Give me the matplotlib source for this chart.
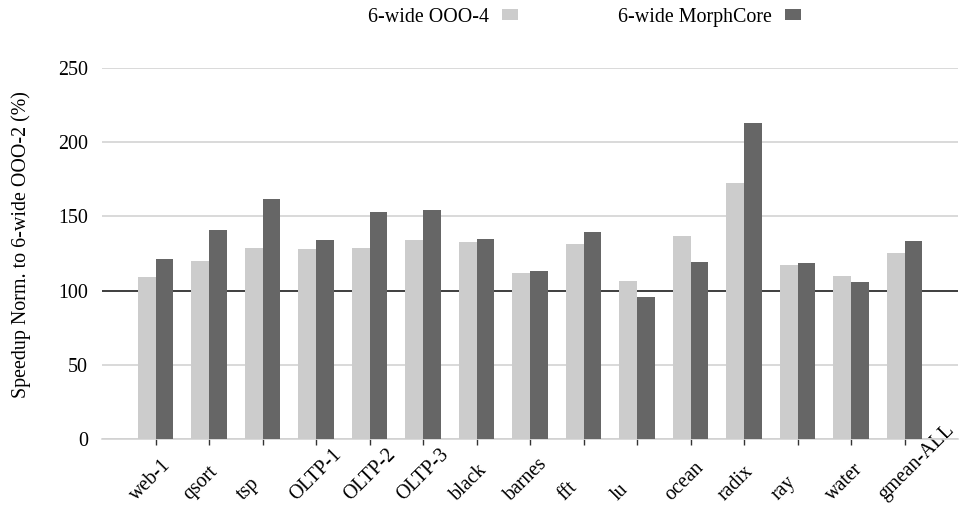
import matplotlib.pyplot as plt
import matplotlib.transforms as mtrans
import numpy as np

plt.rcParams['font.family'] = ['Liberation Serif', 'DejaVu Serif']

categorias = ['web-1', 'qsort', 'tsp', 'OLTP-1', 'OLTP-2', 'OLTP-3', 'black', 'barnes',
              'fft', 'lu', 'ocean', 'radix', 'ray', 'water', 'gmean-ALL']
ooo4 = [109.2, 120.0, 128.7, 128.1, 128.7, 134.1, 132.8, 111.9,
        131.4, 106.5, 136.8, 172.6, 117.3, 109.9, 125.4]
morphcore = [121.3, 140.9, 161.8, 134.1, 153.0, 154.4, 134.8, 113.2,
             139.5, 95.7, 119.3, 213.0, 118.6, 105.8, 133.5]
nomes = ['6-wide OOO-4', '6-wide MorphCore']
cores = ['#cccccc', '#666666']

fs = 14.4
fig = plt.figure(figsize=(9.59, 5.05), dpi=100)
ax = fig.add_axes([0.1064, 0.1307, 0.8926, 0.7344])

x = np.arange(len(categorias))
w = 0.335
ax.bar(x - w / 2, ooo4, w, color=cores[0], label=nomes[0], zorder=3)
ax.bar(x + w / 2, morphcore, w, color=cores[1], label=nomes[1], zorder=3)

ax.set_xlim(-1, len(categorias))
ax.set_ylim(0, 250)
ax.set_yticks([0, 50, 100, 150, 200, 250])
ax.yaxis.grid(True, color='#d0d0d0', linewidth=1.1, zorder=0)
ax.axhline(100, color='#333333', linewidth=1.3, zorder=2)

for s in ['top', 'right', 'left']:
    ax.spines[s].set_visible(False)
ax.spines['bottom'].set_color('#d0d0d0')
ax.spines['bottom'].set_linewidth(1.1)

# rotulos do eixo x: comecam a esquerda do tick e sobem na diagonal
ax.set_xticks(x)
ax.set_xticklabels(categorias, rotation=45, ha='left', va='baseline',
                   rotation_mode='anchor', fontsize=fs)
ax.tick_params(axis='x', length=4, width=1, color='#333333', pad=40.5)
desloc = mtrans.ScaledTranslation(-19.5 / 100, 0, fig.dpi_scale_trans)
for lbl in ax.get_xticklabels():
    lbl.set_transform(lbl.get_transform() + desloc)

ax.tick_params(axis='y', length=0, pad=10, labelsize=fs)
ax.set_ylabel('Speedup Norm. to 6-wide OOO-2 (%)', fontsize=fs)
ax.yaxis.set_label_coords(-0.083, 0.524)

fig.legend(loc='center', bbox_to_anchor=(0.6095, 0.966), ncol=2, frameon=False,
           markerfirst=False, fontsize=fs, handlelength=0.8, handleheight=0.5,
           handletextpad=0.65, columnspacing=5.0, borderaxespad=0)

plt.savefig('out.png')
